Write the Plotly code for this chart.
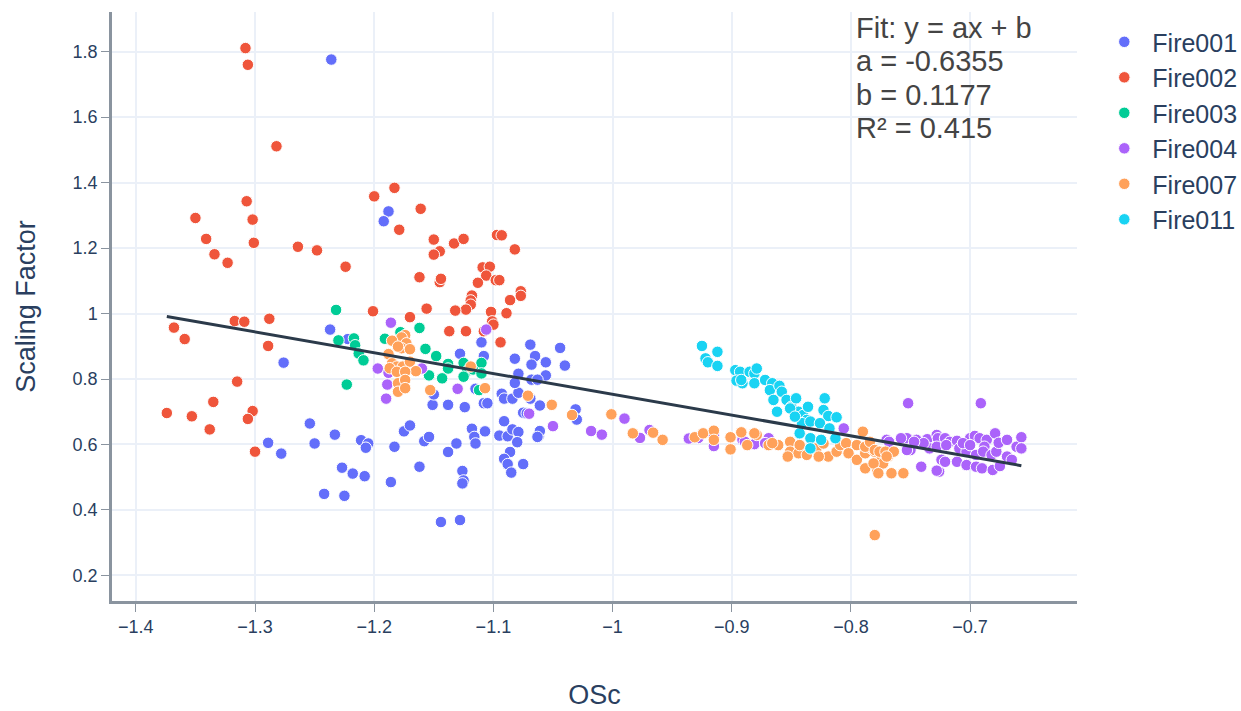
import numpy as np
import plotly.graph_objects as go

# Oxidation state of carbon (OSc) vs scaling factor, per fire
fire001_x = [-1.236, -1.188, -1.192, -1.237, -1.222, -1.276, -1.254, -1.289, -1.278, -1.250,
             -1.233, -1.211, -1.205, -1.207, -1.227, -1.218, -1.208, -1.242, -1.225, -1.186,
             -1.162, -1.183, -1.175, -1.170, -1.158, -1.154, -1.138, -1.131, -1.126, -1.125,
             -1.126, -1.118, -1.116, -1.115, -1.107, -1.095, -1.088, -1.084, -1.079, -1.080,
             -1.091, -1.086, -1.091, -1.088, -1.085, -1.075, -1.062, -1.061, -1.144, -1.128,
             -1.151, -1.138, -1.124, -1.150, -1.128, -1.110, -1.108, -1.115, -1.108, -1.105,
             -1.093, -1.091, -1.084, -1.079, -1.082, -1.079, -1.082, -1.069, -1.065, -1.068,
             -1.056, -1.056, -1.044, -1.040, -1.069, -1.061, -1.075, -1.072, -1.068, -1.063,
             -1.031, -1.030, -1.063]
fire001_y = [1.776, 1.312, 1.282, 0.951, 0.922, 0.850, 0.664, 0.605, 0.572, 0.603,
             0.630, 0.613, 0.603, 0.590, 0.529, 0.511, 0.503, 0.449, 0.443, 0.485,
             0.532, 0.593, 0.640, 0.658, 0.610, 0.623, 0.577, 0.603, 0.519, 0.490,
             0.481, 0.648, 0.623, 0.603, 0.640, 0.627, 0.625, 0.646, 0.638, 0.607,
             0.671, 0.577, 0.556, 0.540, 0.514, 0.540, 0.625, 0.641, 0.363, 0.369,
             0.721, 0.721, 0.714, 0.753, 0.877, 0.912, 0.870, 0.770, 0.726, 0.726,
             0.755, 0.740, 0.740, 0.758, 0.862, 0.816, 0.788, 0.905, 0.870, 0.844,
             0.851, 0.811, 0.895, 0.841, 0.740, 0.719, 0.697, 0.695, 0.798, 0.798,
             0.707, 0.676, 0.623]

fire002_x = [-1.308, -1.306, -1.282, -1.200, -1.183, -1.161, -1.179, -1.150, -1.145, -1.150,
             -1.133, -1.125, -1.097, -1.093, -1.082, -1.109, -1.103, -1.106, -1.098, -1.095,
             -1.113, -1.162, -1.145, -1.144, -1.118, -1.119, -1.119, -1.086, -1.077, -1.077,
             -1.089, -1.102, -1.123, -1.132, -1.156, -1.170, -1.201, -1.101, -1.100, -1.307,
             -1.350, -1.302, -1.301, -1.341, -1.334, -1.323, -1.264, -1.248, -1.224, -1.317,
             -1.309, -1.288, -1.368, -1.359, -1.289, -1.315, -1.335, -1.374, -1.353, -1.302,
             -1.306, -1.338, -1.300, -1.137, -1.123, -1.108, -1.094]
fire002_y = [1.811, 1.760, 1.511, 1.358, 1.384, 1.320, 1.256, 1.226, 1.190, 1.180,
             1.214, 1.228, 1.240, 1.239, 1.196, 1.141, 1.143, 1.116, 1.102, 1.102,
             1.094, 1.111, 1.096, 1.106, 1.055, 1.040, 1.027, 1.041, 1.068, 1.054,
             1.001, 1.005, 1.012, 1.009, 1.015, 0.989, 1.007, 0.976, 0.966, 1.343,
             1.292, 1.287, 1.216, 1.228, 1.181, 1.155, 1.204, 1.193, 1.143, 0.977,
             0.975, 0.984, 0.957, 0.922, 0.901, 0.792, 0.730, 0.696, 0.686, 0.702,
             0.678, 0.646, 0.578, 0.946, 0.946, 0.946, 0.912]

fire003_x = [-1.232, -1.230, -1.217, -1.216, -1.213, -1.209, -1.223, -1.178, -1.162, -1.191,
             -1.157, -1.148, -1.138, -1.138, -1.154, -1.143, -1.125, -1.122, -1.125, -1.117,
             -1.110, -1.110, -1.112]
fire003_y = [1.011, 0.918, 0.924, 0.903, 0.878, 0.857, 0.783, 0.943, 0.956, 0.923,
             0.892, 0.870, 0.846, 0.832, 0.811, 0.802, 0.849, 0.824, 0.807, 0.829,
             0.849, 0.817, 0.766]

fire004_x = [-1.186, -1.197, -1.188, -1.189, -1.190, -1.160, -1.130, -1.106, -1.070, -1.050,
             -1.018, -1.009, -0.990, -0.977, -0.969, -0.936, -0.928, -0.915, -0.915, -0.891,
             -0.881, -0.869, -0.889, -0.872, -0.806, -0.770, -0.752, -0.691, -0.741, -0.726,
             -0.768, -0.756, -0.753, -0.745, -0.736, -0.728, -0.727, -0.721, -0.734, -0.724,
             -0.721, -0.728, -0.750, -0.717, -0.711, -0.709, -0.711, -0.703, -0.700, -0.696,
             -0.692, -0.686, -0.688, -0.703, -0.695, -0.689, -0.682, -0.678, -0.695, -0.690,
             -0.681, -0.675, -0.679, -0.676, -0.669, -0.661, -0.657, -0.657, -0.669, -0.665,
             -0.728, -0.720, -0.739, -0.706, -0.700, -0.758, -0.753, -0.747]
fire004_y = [0.972, 0.832, 0.819, 0.783, 0.740, 0.832, 0.770, 0.951, 0.694, 0.656,
             0.641, 0.630, 0.679, 0.620, 0.644, 0.618, 0.620, 0.627, 0.595, 0.614,
             0.601, 0.619, 0.608, 0.604, 0.649, 0.614, 0.726, 0.726, 0.532, 0.517,
             0.608, 0.616, 0.619, 0.614, 0.616, 0.629, 0.619, 0.619, 0.588, 0.553,
             0.547, 0.520, 0.583, 0.608, 0.611, 0.588, 0.547, 0.537, 0.619, 0.626,
             0.619, 0.614, 0.593, 0.578, 0.568, 0.578, 0.568, 0.578, 0.532, 0.527,
             0.522, 0.534, 0.634, 0.605, 0.614, 0.593, 0.622, 0.588, 0.563, 0.553,
             0.593, 0.598, 0.604, 0.604, 0.598, 0.619, 0.583, 0.608]

fire007_x = [-1.174, -1.177, -1.185, -1.173, -1.177, -1.170, -1.180, -1.188, -1.185, -1.181,
             -1.176, -1.170, -1.165, -1.187, -1.181, -1.174, -1.180, -1.174, -1.180, -1.174,
             -1.153, -1.119, -1.107, -1.071, -1.051, -1.034, -1.001, -0.983, -0.966, -0.958,
             -0.931, -0.924, -0.915, -0.915, -0.901, -0.901, -0.892, -0.887, -0.879, -0.881,
             -0.869, -0.861, -0.851, -0.851, -0.844, -0.837, -0.829, -0.823, -0.819, -0.812,
             -0.809, -0.804, -0.802, -0.795, -0.795, -0.790, -0.788, -0.783, -0.780, -0.778,
             -0.776, -0.773, -0.769, -0.853, -0.866, -0.843, -0.827, -0.788, -0.784, -0.780,
             -0.776, -0.771, -0.764, -0.788, -0.781, -0.777, -0.766, -0.756, -0.770, -0.780]
fire007_y = [0.934, 0.927, 0.917, 0.909, 0.894, 0.891, 0.899, 0.876, 0.848, 0.838,
             0.838, 0.853, 0.824, 0.833, 0.822, 0.822, 0.787, 0.797, 0.761, 0.772,
             0.766, 0.838, 0.772, 0.749, 0.721, 0.690, 0.692, 0.634, 0.636, 0.614,
             0.622, 0.634, 0.642, 0.614, 0.622, 0.585, 0.637, 0.598, 0.629, 0.634,
             0.598, 0.598, 0.608, 0.578, 0.573, 0.568, 0.588, 0.603, 0.563, 0.578,
             0.598, 0.604, 0.573, 0.598, 0.553, 0.639, 0.573, 0.588, 0.578, 0.522,
             0.547, 0.542, 0.563, 0.563, 0.604, 0.598, 0.563, 0.593, 0.608, 0.583,
             0.578, 0.578, 0.578, 0.527, 0.542, 0.512, 0.512, 0.512, 0.563, 0.323]

fire011_x = [-0.925, -0.922, -0.920, -0.912, -0.912, -0.897, -0.893, -0.896, -0.891, -0.885,
             -0.881, -0.881, -0.892, -0.872, -0.866, -0.868, -0.860, -0.858, -0.865, -0.862,
             -0.854, -0.850, -0.846, -0.844, -0.840, -0.836, -0.837, -0.822, -0.823, -0.819,
             -0.812, -0.841, -0.834, -0.826, -0.818, -0.843, -0.834, -0.825, -0.813, -0.834,
             -0.851, -0.847, -0.879]
fire011_y = [0.901, 0.863, 0.851, 0.883, 0.840, 0.827, 0.822, 0.795, 0.787, 0.822,
             0.817, 0.787, 0.797, 0.797, 0.787, 0.766, 0.779, 0.761, 0.736, 0.700,
             0.736, 0.715, 0.741, 0.700, 0.690, 0.715, 0.675, 0.741, 0.705, 0.687,
             0.683, 0.665, 0.670, 0.665, 0.649, 0.634, 0.619, 0.614, 0.619, 0.588,
             0.710, 0.685, 0.832]

series_names = ["Fire001", "Fire002", "Fire003", "Fire004", "Fire007", "Fire011"]
series_x = [fire001_x, fire002_x, fire003_x, fire004_x, fire007_x, fire011_x]
series_y = [fire001_y, fire002_y, fire003_y, fire004_y, fire007_y, fire011_y]
colors = ["#636EFA", "#EF553B", "#00CC96", "#AB63FA", "#FFA15A", "#19D3F3"]

# Linear fit parameters
fit_a = -0.6355
fit_b = 0.1177
fit_r2 = 0.415

font_family = "Liberation Sans, Arial, Helvetica, sans-serif"
text_color = "#2a3f5f"
axis_color = "#8a949f"

fig = go.Figure()
for name, xs, ys, col in zip(series_names, series_x, series_y, colors):
    fig.add_trace(go.Scatter(
        x=xs, y=ys, mode="markers", name=name,
        marker=dict(color=col, size=11.5, line=dict(color="white", width=1)),
    ))

all_x = np.concatenate([np.asarray(v) for v in series_x])
line_x = np.array([all_x.min(), all_x.max()])
line_y = fit_a * line_x + fit_b
fig.add_trace(go.Scatter(
    x=line_x, y=line_y, mode="lines", showlegend=False,
    line=dict(color="#2b3a4a", width=3),
))

# Fit summary, one annotation per line for tight line spacing
fit_lines = ["Fit: y = ax + b", f"a = {fit_a}", f"b = {fit_b}", f"R² = {fit_r2}"]
line_tops = [1.004, 0.947, 0.890, 0.833]
for txt, ytop in zip(fit_lines, line_tops):
    fig.add_annotation(
        xref="paper", yref="paper", x=0.7685, y=ytop, xanchor="left", yanchor="top",
        align="left", showarrow=False, text=txt,
        font=dict(family=font_family, size=29, color="#444444"),
    )

fig.update_layout(
    width=1241, height=711,
    template="plotly_white",
    font=dict(family=font_family, size=18, color=text_color),
    margin=dict(l=112, r=164, t=12, b=110, autoexpand=False),
    legend=dict(font=dict(size=25), itemwidth=46, x=1.02, y=0.988,
                xanchor="left", yanchor="top"),
    plot_bgcolor="white", paper_bgcolor="white",
)
fig.update_xaxes(
    range=[-1.42, -0.6103], dtick=0.1, tick0=-1.4, automargin=False,
    showline=True, linecolor=axis_color, linewidth=2.5,
    ticks="outside", ticklen=8, tickcolor=axis_color, tickwidth=1,
    gridcolor="#EBF0F8", gridwidth=1.5, zeroline=False,
    title=dict(text="OSc", font=dict(size=27), standoff=49),
)
fig.update_yaxes(
    range=[0.1217, 1.9213], dtick=0.2, tick0=0.2, automargin=False,
    showline=True, linecolor=axis_color, linewidth=2.5,
    ticks="outside", ticklen=8, tickcolor=axis_color, tickwidth=1,
    gridcolor="#EBF0F8", gridwidth=1.5, zeroline=False,
    title=dict(text="Scaling Factor", font=dict(size=27), standoff=30),
)

fig.write_html("out.html")
